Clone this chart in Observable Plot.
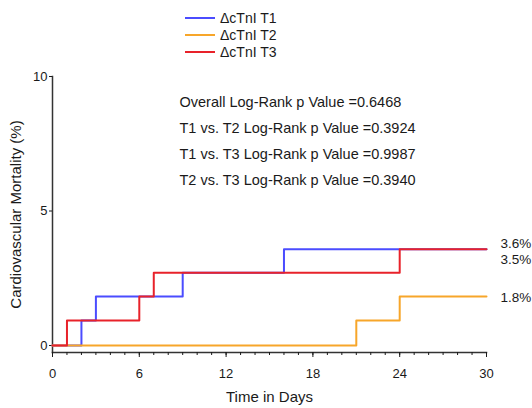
<!DOCTYPE html>
<html><head><meta charset="utf-8">
<script src="https://cdn.jsdelivr.net/npm/d3@7"></script>
<script src="https://cdn.jsdelivr.net/npm/@observablehq/plot@0.6"></script>
<style>
body{margin:0;background:#fff;font-family:"Liberation Sans",Arial,sans-serif;}
#legend{position:relative;height:62px;width:532px;}
.item{position:absolute;left:185px;height:18px;display:flex;align-items:center;font-size:14px;color:#1a1a1a;}
.swatch{width:30px;height:2px;margin-right:5px;}
#chart svg{display:block;}
</style></head><body>
<div id="legend"></div>
<div id="chart"></div>
<script>
const seriesNames = ["ΔcTnI T1", "ΔcTnI T2", "ΔcTnI T3"];
const seriesColors = ["#4b4cff", "#f7a62a", "#e8222a"];
const t1Days = [0, 2, 3, 9, 16, 30];
const t1Mort = [0, 0.93, 1.82, 2.70, 3.58, 3.58];
const t2Days = [0, 21, 24, 30];
const t2Mort = [0, 0.93, 1.82, 1.82];
const t3Days = [0, 1, 6, 7, 24, 30];
const t3Mort = [0, 0.93, 1.82, 2.70, 3.58, 3.58];
const endLabels = ["3.6%", "1.8%", "3.5%"];
const xTicks = [0, 6, 12, 18, 24, 30];
const yTicks = [0, 5, 10];
const pValueLines = [
  "Overall Log-Rank p Value =0.6468",
  "T1 vs. T2 Log-Rank p Value =0.3924",
  "T1 vs. T3 Log-Rank p Value =0.9987",
  "T2 vs. T3 Log-Rank p Value =0.3940"
];

const legend = document.getElementById("legend");
seriesNames.forEach((n, i) => {
  const d = document.createElement("div");
  d.className = "item";
  d.style.top = (9 + 17 * i) + "px";
  d.innerHTML = `<span class="swatch" style="background:${seriesColors[i]}"></span><span>${n}</span>`;
  legend.appendChild(d);
});

const series = [[t1Days, t1Mort], [t2Days, t2Mort], [t3Days, t3Mort]];
const rows = [];
series.forEach(([d, m], i) => d.forEach((x, j) => rows.push({series: seriesNames[i], day: x, mort: m[j]})));
const ends = series.map(([d, m], i) => ({series: seriesNames[i], day: d[d.length - 1], mort: m[m.length - 1], label: endLabels[i]}));

const chart = Plot.plot({
  width: 532, height: 346,
  marginTop: 14, marginLeft: 52, marginRight: 46, marginBottom: 56,
  x: {domain: [0, 30]},
  y: {domain: [-0.26, 10]},
  color: {domain: seriesNames, range: seriesColors},
  style: {fontFamily: "Liberation Sans, Arial, sans-serif", fontSize: "13px", color: "#1a1a1a", background: "#fff"},
  marks: [
    Plot.frame({anchor: "left", stroke: "#333", strokeWidth: 1.5}),
    Plot.frame({anchor: "bottom", stroke: "#333", strokeWidth: 1.5}),
    Plot.axisY({ticks: yTicks, tickSize: 3, tickPadding: 2, fontSize: 13, label: null}),
    Plot.axisY({ticks: [], label: "Cardiovascular Mortality (%)", labelAnchor: "center", labelArrow: "none", labelOffset: 42, fontSize: 15}),
    Plot.axisX({ticks: d3.range(0, 31), tickSize: 3, tickFormat: () => "", label: null}),
    Plot.axisX({ticks: xTicks, tickSize: 5, tickPadding: 11, fontSize: 13, label: null}),
    Plot.axisX({ticks: [], label: "Time in Days", labelAnchor: "center", labelArrow: "none", labelOffset: 49, fontSize: 15}),
    Plot.line(rows, {x: "day", y: "mort", z: "series", stroke: "series", curve: "step-after", strokeWidth: 2}),
    Plot.text([ends[0]], {x: "day", y: "mort", text: "label", textAnchor: "start", dx: 14, dy: -6, fontSize: 13.5}),
    Plot.text([ends[2]], {x: "day", y: "mort", text: "label", textAnchor: "start", dx: 14, dy: 10, fontSize: 13.5}),
    Plot.text([ends[1]], {x: "day", y: "mort", text: "label", textAnchor: "start", dx: 14, dy: 1, fontSize: 13.5}),
    Plot.text([pValueLines.join("\n")], {frameAnchor: "top-left", dx: 127, dy: 12, lineAnchor: "top", lineHeight: 1.8, textAnchor: "start", fontSize: 14.5})
  ]
});
document.getElementById("chart").appendChild(chart);
</script>
</body></html>
